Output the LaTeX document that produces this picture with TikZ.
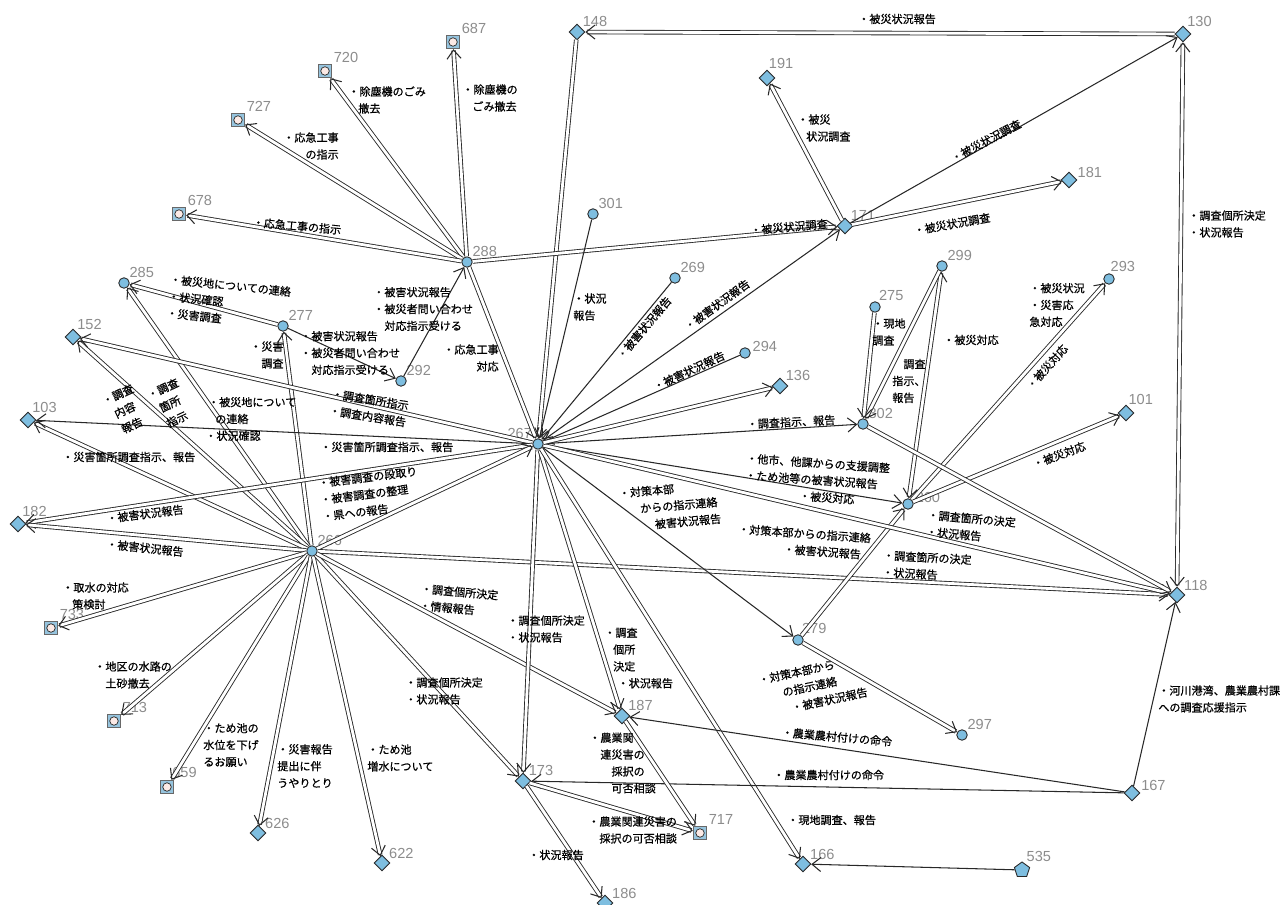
\documentclass[tikz,border=0pt]{standalone}
\usepackage{fontspec}
\usepackage{tikz}
\usetikzlibrary{arrows.meta,shapes.geometric}
\newfontfamily\jp[FakeBold=0.6]{Noto Sans CJK JP}
\newfontfamily\numf{Liberation Sans}
\definecolor{nodeblue}{RGB}{126,190,224}
\definecolor{boxblue}{RGB}{150,196,222}
\definecolor{pinkish}{RGB}{252,234,230}
\definecolor{numgray}{RGB}{140,140,140}
\definecolor{linegray}{RGB}{40,40,40}

\begin{document}
\begin{tikzpicture}[x=0.02cm, y=-0.02cm,
  dia/.style={diamond, draw=linegray, fill=nodeblue, inner sep=0pt, minimum size=0.32cm, line width=0.5pt},
  rnd/.style={circle, draw=linegray, fill=nodeblue, inner sep=0pt, minimum size=0.21cm, line width=0.5pt},
  sq/.style={rectangle, draw=linegray!70, fill=boxblue, inner sep=0pt, minimum size=0.27cm, line width=0.5pt,
    path picture={\draw[linegray, fill=pinkish, line width=0.4pt] (path picture bounding box.center) circle (0.085cm);}},
  pent/.style={regular polygon, regular polygon sides=5, draw=linegray, fill=nodeblue, inner sep=0pt, minimum size=0.32cm, line width=0.5pt},
  num/.style={font=\numf\fontsize{8.3}{10}\selectfont, text=numgray, inner sep=0pt},
  lbl/.style={font=\jp\fontsize{6.3}{9.6}\selectfont, align=left, inner sep=0pt, anchor=west},
  rlbl/.style={font=\jp\fontsize{6.3}{9.6}\selectfont, align=left, inner sep=0pt, anchor=center},
  link/.style={draw=linegray, line width=0.5pt, double=white, double distance=1.6pt},
  wire/.style={draw=linegray, line width=0.6pt},
  arr/.style={-{Straight Barb[length=5pt,width=8pt,line width=0.6pt]}},
  biarr/.style={{Straight Barb[length=5pt,width=8pt,line width=0.6pt]}-{Straight Barb[length=5pt,width=8pt,line width=0.6pt]}},
  label distance=1pt
]
\useasboundingbox (0,0) rectangle (1282,905);

% nodes
\node[dia, label={[num]45:148}] (n148) at (577,32) {};
\node[dia, label={[num]60:130}] (n130) at (1183,34) {};
\node[dia, label={[num]80:191}] (n191) at (767,78) {};
\node[sq, label={[num]45:687}] (n687) at (453,42) {};
\node[sq, label={[num]45:720}] (n720) at (325,71) {};
\node[sq, label={[num]45:727}] (n727) at (238,120) {};
\node[sq, label={[num]45:678}] (n678) at (179,214) {};
\node[rnd, label={[num]45:301}] (n301) at (593,214) {};
\node[dia, label={[num]45:171}] (n171) at (845,226) {};
\node[dia, label={[num]15:181}] (n181) at (1069,180) {};
\node[rnd, label={[num]45:288}] (n288) at (467,262) {};
\node[rnd, label={[num]45:285}] (n285) at (124,283) {};
\node[rnd, label={[num]45:277}] (n277) at (283,326) {};
\node[rnd, label={[num]45:292}] (n292) at (401,381) {};
\node[dia, label={[num]60:152}] (n152) at (73,337) {};
\node[rnd, label={[num]45:269}] (n269) at (675,278) {};
\node[rnd, label={[num]45:299}] (n299) at (942,266) {};
\node[rnd, label={[num]80:293}] (n293) at (1109,279) {};
\node[rnd, label={[num]60:275}] (n275) at (875,307) {};
\node[rnd, label={[num]10:294}] (n294) at (745,353) {};
\node[dia, label={[num]45:136}] (n136) at (780,386) {};
\node[dia, label={[num]60:103}] (n103) at (28,420) {};
\node[rnd, label={[num]140:267}] (n267) at (538,444) {};
\node[rnd, label={[num]45:302}] (n302) at (863,424) {};
\node[dia, label={[num]75:101}] (n101) at (1126,413) {};
\node[rnd, label={[num]5:260}] (n260) at (908,504) {};
\node[dia, label={[num]60:182}] (n182) at (18,524) {};
\node[rnd, label={[num]45:266}] (n266) at (312,551) {};
\node[dia, label={[num]30:118}] (n118) at (1177,595) {};
\node[sq, label={[num]45:733}] (n733) at (51,628) {};
\node[rnd, label={[num]60:279}] (n279) at (798,640) {};
\node[sq, label={[num]45:713}] (n713) at (114,721) {};
\node[dia, label={[num]40:187}] (n187) at (622,716) {};
\node[rnd, label={[num]45:297}] (n297) at (962,735) {};
\node[sq, label={[num]60:659}] (n659) at (167,787) {};
\node[dia, label={[num]45:173}] (n173) at (523,781) {};
\node[dia, label={[num]10:167}] (n167) at (1132,793) {};
\node[dia, label={[num]30:626}] (n626) at (258,833) {};
\node[sq, label={[num]45:717}] (n717) at (700,833) {};
\node[dia, label={[num]30:622}] (n622) at (382,863) {};
\node[dia, label={[num]30:166}] (n166) at (803,864) {};
\node[pent, label={[num]60:535}] (n535) at (1022,870) {};
\node[dia, label={[num]30:186}] (n186) at (605,903) {};

% connectors
\draw[link, arr] (n130) -- (n148);
\draw[link, arr] (n148) -- (n267);
\draw[link, arr] (n171) -- (n191);
\draw[wire, arr] (n171) -- (n130);
\draw[link, arr] (n171) -- (n181);
\draw[link, arr] (n288) -- (n171);
\draw[link, arr] (n288) -- (n687);
\draw[link, arr] (n288) -- (n720);
\draw[link, arr] (n288) -- (n727);
\draw[link, arr] (n288) -- (n678);
\draw[link, arr] (n288) -- (n267);
\draw[wire, arr] (n292) -- (n288);
\draw[wire, arr] (n277) -- (n292);
\draw[link, arr] (n277) -- (n285);
\draw[link, arr] (n266) -- (n277);
\draw[link, arr] (n266) -- (n285);
\draw[link, arr] (n266) -- (n152);
\draw[link, arr] (n267) -- (n152);
\draw[link, arr] (n266) -- (n103);
\draw[wire, arr] (n267) -- (n103);
\draw[link, arr] (n267) -- (n182);
\draw[link, arr] (n266) -- (n182);
\draw[link, arr] (n266) -- (n267);
\draw[link, arr] (n266) -- (n118);
\draw[link, arr] (n266) -- (n733);
\draw[link, arr] (n266) -- (n713);
\draw[link, arr] (n266) -- (n659);
\draw[link, arr] (n266) -- (n626);
\draw[link, arr] (n266) -- (n622);
\draw[link, arr] (n266) -- (n173);
\draw[link, arr] (n266) -- (n187);
\draw[link, arr] (n267) -- (n173);
\draw[link, arr] (n267) -- (n187);
\draw[link, arr] (n267) -- (n166);
\draw[wire, arr] (n267) -- (n279);
\draw[link, arr] (n279) -- (n297);
\draw[link, arr] (n279) -- (n260);
\draw[link, arr] (n260) -- (n293);
\draw[link, arr] (n260) -- (n101);
\draw[link, biarr] (n260) -- (n299);
\draw[link, arr] (n299) -- (n302);
\draw[link, arr] (n275) -- (n302);
\draw[wire, arr] (n267) -- (n302);
\draw[wire, arr] (n267) -- (n260);
\draw[link, arr] (n267) -- (n118);
\draw[link, arr] (n302) -- (n118);
\draw[link, biarr] (n118) -- (n130);
\draw[wire, arr] (n167) -- (n118);
\draw[wire, arr] (n167) -- (n187);
\draw[wire, arr] (n167) -- (n173);
\draw[link, arr] (n173) -- (n717);
\draw[link, arr] (n187) -- (n717);
\draw[link, arr] (n173) -- (n186);
\draw[wire, arr] (n535) -- (n166);
\draw[wire, arr] (n301) -- (n267);
\draw[wire, arr] (n269) -- (n267);
\draw[wire, arr] (n267) -- (n171);
\draw[wire, arr] (n294) -- (n267);
\draw[link, arr] (n267) -- (n136);

% texts
\node[lbl] (lab01) at (858,19) {・被災状況報告};
\node[lbl] (lab02) at (797,128) {・被災\\\hspace*{0.8em}状況調査};
\node[rlbl, rotate=28] (lab03) at (986,141) {・被災状況調査};
\node[rlbl, rotate=10] (lab04) at (952,224) {・被災状況調査};
\node[rlbl, rotate=5] (lab05) at (789,227) {・被災状況調査};
\node[lbl] (lab06) at (462,98) {・除塵機の\\\hspace*{0.9em}ごみ撤去};
\node[lbl] (lab07) at (348,100) {・除塵機のごみ\\\hspace*{0.9em}撤去};
\node[lbl] (lab08) at (283,146) {・応急工事\\\hspace*{2em}の指示};
\node[rlbl, rotate=-5] (lab09) at (297,226) {・応急工事の指示};
\node[lbl, rotate=-6] (lab10) at (168,296) {・被災地についての連絡\\・状況確認\\・災害調査};
\node[lbl] (lab11) at (250,355) {・災害\\\hspace*{1em}調査};
\node[lbl] (lab12) at (300,353) {・被害状況報告\\・被災者問い合わせ\\\hspace*{1em}対応指示受ける};
\node[lbl] (lab13) at (373,309) {・被害状況報告\\・被災者問い合わせ\\\hspace*{1em}対応指示受ける};
\node[rlbl, align=center, rotate=25] (lab14) at (125,410) {・調査\\内容\\報告};
\node[rlbl, align=center, rotate=25] (lab15) at (170,404) {・調査\\箇所\\指示};
\node[lbl] (lab16) at (205,419) {\hspace*{0.25em}・被災地について\\\hspace*{0.9em}の連絡\\・状況確認};
\node[rlbl, rotate=-9] (lab17) at (369,408) {・調査箇所指示\\・調査内容報告};
\node[lbl] (lab18) at (62,457) {・災害箇所調査指示、報告};
\node[lbl] (lab19) at (320,447) {・災害箇所調査指示、報告};
\node[lbl, rotate=7] (lab20) at (320,500) {・被害調査の段取り\\・被害調査の整理\\・県への報告};
\node[rlbl, rotate=7] (lab21) at (145,514) {・被害状況報告};
\node[rlbl, rotate=-6] (lab22) at (145,548) {・被害状況報告};
\node[lbl] (lab23) at (62,596) {・取水の対応\\\hspace*{0.9em}策検討};
\node[lbl] (lab24) at (94,675) {・地区の水路の\\\hspace*{1em}土砂撤去};
\node[lbl] (lab25) at (203,745) {・ため池の\\水位を下げ\\るお願い};
\node[lbl] (lab26) at (277,766) {・災害報告\\提出に伴\\うやりとり};
\node[lbl] (lab27) at (367,758) {・ため池\\増水について};
\node[lbl, rotate=-5] (lab28) at (420,597) {・調査個所決定\\・情報報告};
\node[lbl] (lab29) at (507,629) {・調査個所決定\\・状況報告};
\node[lbl] (lab30) at (604,658) {・調査\\\hspace*{0.8em}個所\\\hspace*{0.8em}決定\\\hspace*{1.2em}・状況報告};
\node[lbl] (lab31) at (405,691) {・調査個所決定\\・状況報告};
\node[lbl] (lab32) at (589,763) {・農業関\\\hspace*{1em}連災害の\\\hspace*{2em}採択の\\\hspace*{2em}可否相談};
\node[lbl] (lab33) at (588,830) {・農業関連災害の\\\hspace*{1em}採択の可否相談};
\node[lbl] (lab34) at (528,855) {・状況報告};
\node[rlbl, rotate=12] (lab35) at (813,686) {・対策本部から\\\hspace*{1.9em}の指示連絡\\\hspace*{2.4em}・被害状況報告};
\node[rlbl, rotate=-5] (lab36) at (837,737) {・農業農村付けの命令};
\node[lbl] (lab37) at (773,775) {・農業農村付けの命令};
\node[lbl] (lab38) at (787,820) {・現地調査、報告};
\node[lbl] (lab39) at (1158,699) {・河川港湾、農業農村課\\への調査応援指示};
\node[lbl] (lab40) at (1188,224) {・調査個所決定\\・状況報告};
\node[lbl] (lab41) at (573,307) {・状況\\報告};
\node[lbl] (lab42) at (443,358) {・応急工事\\\hspace*{3em}対応};
\node[rlbl, rotate=50] (lab43) at (644,328) {・被害状況報告};
\node[rlbl, rotate=36] (lab44) at (717,305) {・被害状況報告};
\node[rlbl, rotate=25] (lab45) at (689,371) {・被害状況報告};
\node[rlbl, rotate=3] (lab46) at (791,422) {・調査指示、報告};
\node[rlbl, rotate=-4] (lab47) at (817,480) {・他市、他課からの支援調整\\・ため池等の被害状況報告\\\hspace*{5em}・被災対応};
\node[rlbl, rotate=5] (lab48) at (670,506) {・対策本部\\\hspace*{1.8em}からの指示連絡\\\hspace*{3em}被害状況報告};
\node[rlbl, rotate=-4] (lab49) at (804,542) {・対策本部からの指示連絡\\\hspace*{4.2em}・被害状況報告};
\node[rlbl, rotate=-5] (lab50) at (971,527) {・調査箇所の決定\\・状況報告};
\node[rlbl, rotate=-3] (lab51) at (927,566) {・調査箇所の決定\\・状況報告};
\node[lbl] (lab52) at (872,332) {・現地\\調査};
\node[lbl] (lab53) at (943,340) {・被災対応};
\node[lbl] (lab54) at (892,381) {\hspace*{1em}調査\\指示、\\報告};
\node[lbl] (lab55) at (1029,305) {・被災状況\\・災害応\\急対応};
\node[rlbl, rotate=48] (lab56) at (1047,367) {・被災対応};
\node[rlbl, rotate=20] (lab57) at (1059,455) {・被災対応};
\end{tikzpicture}
\end{document}
